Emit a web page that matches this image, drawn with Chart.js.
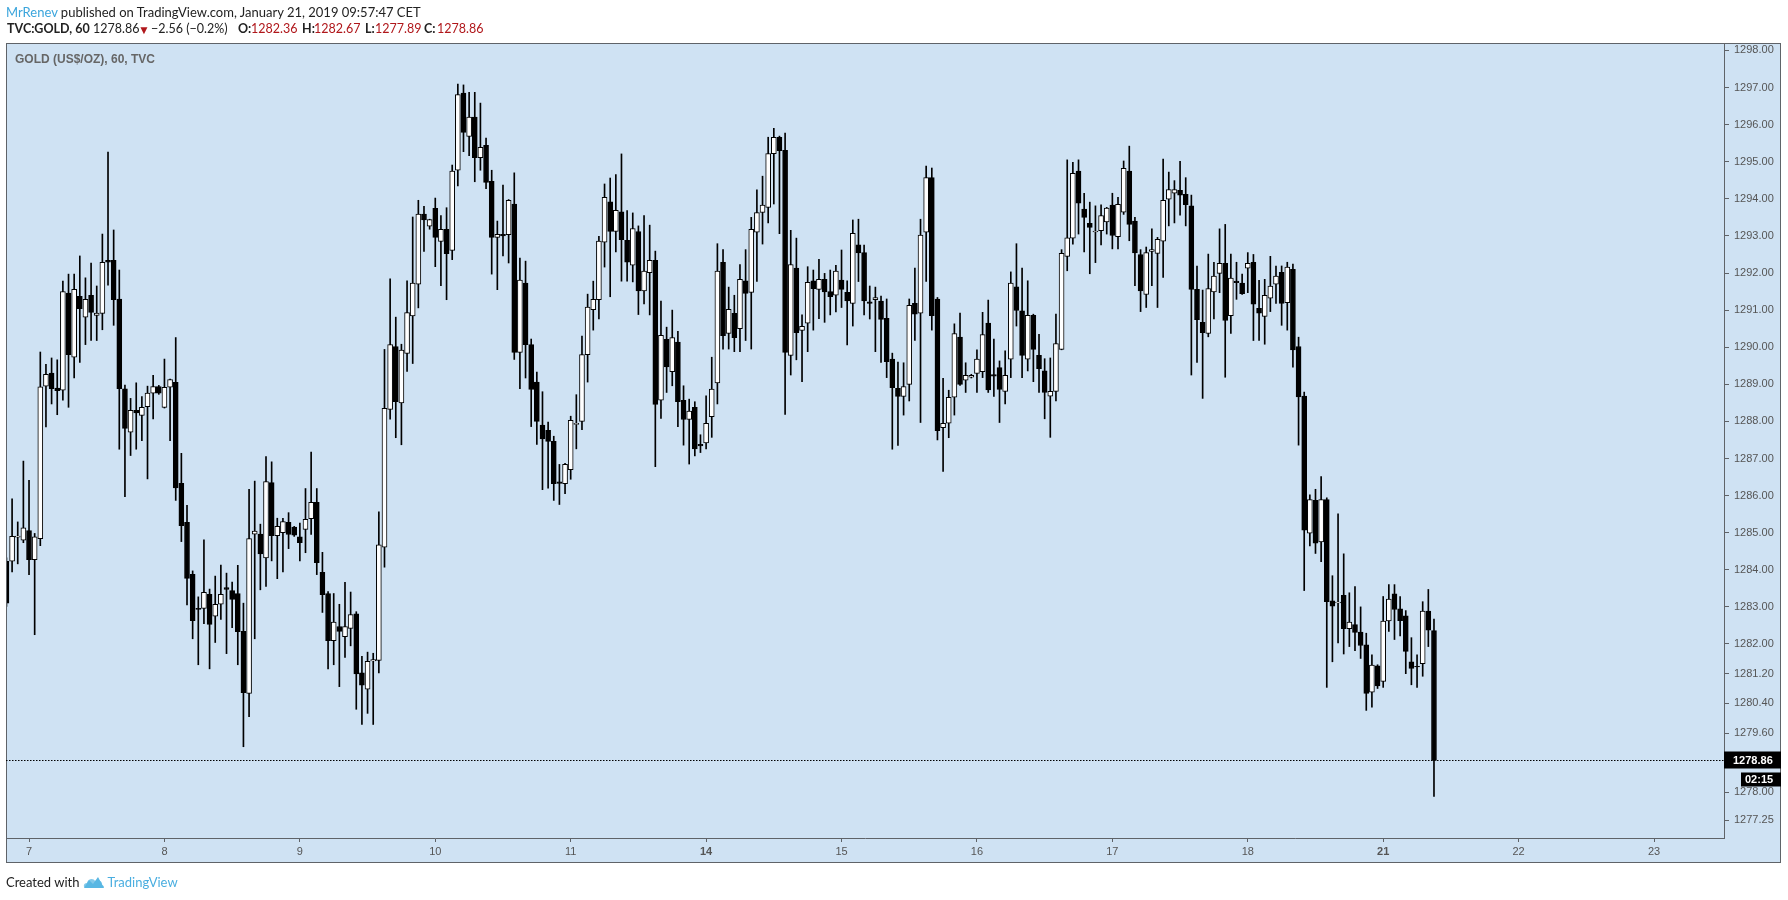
<!DOCTYPE html>
<html>
<head>
<meta charset="utf-8">
<script src="https://cdn.jsdelivr.net/npm/chart.js@4.4.1/dist/chart.umd.min.js"></script>
<style>
  html, body { margin: 0; padding: 0; background: #fff; }
  body { width: 1788px; height: 900px; position: relative; overflow: hidden; font-family: Lato, "Open Sans", sans-serif; }
  #chart { position: absolute; left: 0; top: 0; }
  .line { position: absolute; left: 6px; font-size: 13px; color: #222; white-space: nowrap; }
  .seg { position: absolute; top: 21px; font-size: 12.5px; color: #222; white-space: nowrap; }
  .blue { color: #3ba5dc; }
  .red { color: #b0171b; }
  .title { position: absolute; left: 15px; top: 52px; font: bold 12px "Liberation Sans", Arial, sans-serif; color: #666; white-space: nowrap; }
  .foot { position: absolute; left: 6px; top: 874px; font-size: 13px; color: #222; white-space: nowrap; display: flex; align-items: center; }
  .foot svg { margin: 0 2px 0 4px; }
</style>
</head>
<body>
<canvas id="chart" width="1788" height="900"></canvas>
<div class="line" style="top:4px"><span class="blue">MrRenev</span> published on TradingView.com, January 21, 2019 09:57:47 CET</div>
<div class="seg" style="left:7px"><b>TVC:GOLD, 60</b></div>
<div class="seg" style="left:93px">1278.86</div>
<div class="seg red" style="left:138px;font-size:12px;top:22px">&#9660;</div>
<div class="seg" style="left:151px">&minus;2.56 (&minus;0.2%)</div>
<div class="seg" style="left:238px"><b>O:</b></div>
<div class="seg red" style="left:251px">1282.36</div>
<div class="seg" style="left:302px"><b>H:</b></div>
<div class="seg red" style="left:314px">1282.67</div>
<div class="seg" style="left:365px"><b>L:</b></div>
<div class="seg red" style="left:375px">1277.89</div>
<div class="seg" style="left:424px"><b>C:</b></div>
<div class="seg red" style="left:437px">1278.86</div>
<div class="title">GOLD (US$/OZ), 60, TVC</div>
<div class="foot">Created with<svg width="22" height="14" viewBox="0 0 22 14"><path d="M1 13 L6 5 L10 9 L15 2 L21 13 Z" fill="#5ab7e3"/><path d="M3 13 C0 13 0 8 4 8 C5 3 11 3 12 6 C16 4 20 7 19 10 C22 11 21 13 19 13 Z" fill="#5ab7e3" opacity="0.75"/></svg><span style="color:#4aaee0">TradingView</span></div>

<script>
// candle index 0 = first hourly bar of Jan 7; 24 bars per day
const firstIndex = -4;

const opens = [
  1284.23, 1284.23, 1284.88, 1284.80,
  1285.06, 1284.27, 1284.84, 1288.95, 1289.30, 1288.90, 1288.84, 1291.46, 1289.73, 1291.37,
  1290.81, 1291.40, 1290.86, 1290.91, 1292.34, 1292.34, 1291.30, 1288.88, 1287.71, 1288.30,
  1288.16, 1288.40, 1288.76, 1288.94,
  1288.38, 1288.92, 1289.05, 1286.33, 1285.28, 1283.88, 1282.96, 1282.96, 1283.34, 1282.75,
  1283.07, 1283.52, 1283.44, 1283.36, 1282.34, 1280.67, 1284.96, 1284.96, 1284.32, 1286.35,
  1284.92, 1285.00, 1285.28, 1285.15,
  1284.89, 1285.09, 1285.38, 1285.82, 1283.93, 1283.36, 1282.09, 1282.47, 1282.20, 1282.42,
  1282.81, 1281.22, 1280.78, 1281.54, 1281.56, 1284.61, 1288.32, 1290.02, 1288.50, 1289.83,
  1290.84, 1291.70, 1293.59, 1293.26,
  1293.74, 1292.85, 1293.18, 1292.61, 1294.77, 1296.85, 1295.68, 1296.20, 1295.11, 1295.44,
  1294.47, 1292.96, 1293.04, 1293.03, 1293.86, 1289.86, 1291.73, 1290.07, 1289.06, 1287.90,
  1287.76, 1287.46, 1286.37, 1286.32,
  1286.70, 1287.92, 1288.00, 1289.80, 1291.01, 1291.28, 1292.83, 1293.92, 1293.12, 1293.65,
  1292.88, 1292.21, 1293.12, 1291.52, 1292.01, 1292.34, 1288.57, 1290.21, 1289.34, 1290.14,
  1288.57, 1288.05, 1288.38, 1287.38,
  1287.42, 1288.13, 1289.04, 1292.29, 1290.37, 1290.91, 1290.50, 1291.79, 1291.48, 1293.10,
  1293.63, 1293.77, 1295.22, 1295.66, 1295.31, 1289.78, 1292.13, 1290.45, 1290.65, 1291.79,
  1291.56, 1291.83, 1291.50, 1291.40,
  1291.81, 1291.48, 1291.18, 1292.76, 1292.55, 1291.22, 1291.28, 1291.24, 1290.78, 1289.68,
  1288.89, 1288.67, 1289.00, 1291.18, 1290.92, 1293.10, 1294.57, 1291.30, 1287.83, 1287.95,
  1288.65, 1290.27, 1289.11, 1289.19,
  1289.29, 1289.34, 1290.65, 1289.26, 1289.45, 1288.81, 1289.68, 1291.63, 1290.98, 1289.68,
  1290.86, 1289.78, 1289.36, 1288.68, 1288.81, 1289.94, 1292.45, 1292.94, 1294.75, 1293.72,
  1293.34, 1293.11, 1293.14, 1293.38,
  1293.83, 1292.98, 1293.64, 1294.75, 1293.40, 1292.50, 1291.42, 1292.58, 1292.53, 1292.86,
  1293.99, 1294.15, 1294.23, 1294.12, 1293.81, 1291.56, 1290.67, 1290.37, 1291.49, 1291.99,
  1292.26, 1290.85, 1291.78, 1291.73,
  1292.13, 1292.29, 1291.05, 1290.83, 1291.32, 1291.70, 1292.02, 1291.20, 1292.10, 1290.02,
  1288.68, 1284.99, 1285.87, 1284.75, 1285.89, 1283.16, 1283.11, 1283.31, 1282.41, 1282.52,
  1282.32, 1281.98, 1280.70, 1281.41,
  1280.99, 1282.62, 1283.35, 1282.95, 1282.76, 1281.52, 1281.40, 1281.47, 1282.89, 1282.36
];

const highs = [
  1284.32, 1285.91, 1285.29, 1286.93,
  1286.41, 1284.98, 1289.87, 1289.54, 1289.71, 1289.66, 1291.78, 1291.97, 1291.97, 1292.46,
  1291.87, 1292.27, 1291.65, 1293.05, 1295.26, 1293.16, 1292.08, 1288.98, 1288.62, 1289.04,
  1288.67, 1288.95, 1289.24, 1288.97,
  1289.68, 1289.14, 1290.26, 1287.14, 1285.74, 1283.97, 1283.27, 1284.81, 1283.48, 1283.83,
  1284.13, 1283.91, 1283.67, 1284.12, 1283.10, 1286.17, 1286.39, 1285.23, 1287.05, 1286.91,
  1285.39, 1285.39, 1285.54, 1285.17,
  1285.26, 1286.19, 1287.17, 1286.19, 1284.47, 1283.41, 1283.36, 1283.07, 1283.66, 1283.40,
  1282.87, 1281.67, 1281.78, 1281.75, 1285.56, 1289.94, 1291.84, 1290.81, 1290.08, 1291.79,
  1293.51, 1293.96, 1293.80, 1293.45,
  1294.02, 1293.55, 1293.76, 1294.91, 1297.09, 1297.07, 1296.87, 1296.87, 1296.58, 1295.64,
  1294.77, 1293.40, 1294.37, 1293.98, 1294.70, 1292.40, 1292.32, 1290.22, 1289.33, 1288.80,
  1287.98, 1287.60, 1286.84, 1286.87,
  1288.14, 1288.72, 1290.30, 1291.43, 1291.78, 1292.99, 1294.40, 1294.56, 1294.65, 1295.21,
  1293.68, 1293.62, 1293.27, 1293.55, 1293.29, 1292.59, 1291.24, 1290.54, 1291.00, 1290.43,
  1288.96, 1288.60, 1288.53, 1287.64,
  1288.69, 1289.73, 1292.79, 1292.63, 1291.62, 1291.40, 1292.23, 1292.63, 1293.50, 1294.24,
  1294.61, 1295.66, 1295.90, 1295.69, 1295.77, 1293.15, 1292.94, 1290.87, 1292.17, 1292.08,
  1292.37, 1291.99, 1292.08, 1292.21,
  1292.62, 1291.79, 1293.43, 1293.45, 1292.75, 1291.65, 1291.62, 1291.38, 1291.30, 1289.84,
  1289.60, 1289.58, 1291.30, 1292.13, 1293.45, 1294.88, 1294.83, 1291.34, 1289.16, 1288.84,
  1290.63, 1290.92, 1289.58, 1289.27,
  1289.93, 1290.94, 1291.27, 1290.22, 1289.63, 1289.90, 1292.03, 1292.79, 1292.13, 1291.79,
  1290.89, 1290.35, 1289.69, 1289.71, 1290.89, 1292.63, 1295.05, 1294.98, 1295.05, 1294.15,
  1293.91, 1293.81, 1293.84, 1293.77,
  1294.15, 1294.04, 1295.02, 1295.42, 1293.50, 1292.63, 1292.70, 1293.19, 1292.96, 1295.07,
  1294.72, 1294.49, 1295.01, 1294.57, 1294.10, 1292.19, 1291.54, 1292.51, 1292.29, 1293.19,
  1293.31, 1292.51, 1292.29, 1291.97,
  1292.55, 1292.50, 1291.80, 1291.83, 1292.45, 1292.19, 1292.19, 1292.29, 1292.24, 1290.27,
  1288.79, 1286.02, 1286.17, 1286.51, 1285.94, 1283.84, 1285.51, 1284.43, 1283.38, 1283.55,
  1283.00, 1282.29, 1281.71, 1281.44,
  1283.28, 1283.60, 1283.60, 1283.28, 1282.90, 1282.17, 1281.71, 1283.14, 1283.47, 1282.67
];

const lows = [
  1283.01, 1283.94, 1284.16, 1284.73,
  1283.87, 1282.25, 1284.65, 1287.85, 1288.47, 1288.18, 1288.57, 1288.38, 1289.17, 1289.59,
  1290.07, 1290.18, 1290.18, 1290.47, 1291.67, 1290.59, 1287.25, 1285.97, 1287.08, 1287.25,
  1287.48, 1286.45, 1288.07, 1288.73,
  1288.36, 1287.48, 1285.87, 1284.76, 1283.05, 1282.14, 1281.44, 1282.55, 1281.33, 1282.04,
  1282.66, 1281.74, 1282.44, 1281.44, 1279.23, 1280.04, 1282.14, 1283.46, 1283.55, 1284.24,
  1283.76, 1283.94, 1284.57, 1284.90,
  1284.24, 1284.46, 1284.95, 1283.87, 1282.85, 1281.33, 1281.44, 1280.85, 1281.64, 1281.95,
  1280.24, 1279.83, 1280.13, 1279.83, 1281.22, 1284.07, 1288.06, 1287.56, 1287.37, 1289.35,
  1289.56, 1291.06, 1292.58, 1293.18,
  1292.17, 1291.66, 1291.28, 1292.36, 1294.35, 1295.27, 1295.16, 1294.46, 1294.77, 1294.27,
  1291.97, 1291.55, 1292.46, 1292.27, 1289.67, 1288.88, 1289.17, 1287.86, 1287.38, 1286.16,
  1286.20, 1285.87, 1285.76, 1286.05,
  1286.44, 1287.26, 1287.78, 1289.06, 1290.46, 1290.76, 1292.16, 1291.36, 1292.57, 1291.78,
  1291.78, 1291.76, 1290.88, 1291.17, 1290.87, 1286.78, 1288.08, 1288.78, 1288.96, 1287.86,
  1287.36, 1286.85, 1287.07, 1287.16,
  1287.26, 1287.57, 1288.47, 1289.95, 1289.95, 1289.88, 1289.88, 1290.18, 1289.95, 1291.77,
  1292.78, 1293.35, 1293.86, 1293.06, 1288.19, 1289.25, 1289.66, 1289.07, 1289.88, 1290.46,
  1290.77, 1290.67, 1290.87, 1290.95,
  1291.07, 1290.06, 1290.57, 1291.77, 1290.87, 1290.76, 1289.88, 1289.59, 1289.18, 1287.25,
  1287.35, 1288.17, 1288.55, 1290.18, 1287.97, 1291.77, 1290.46, 1287.50, 1286.65, 1287.56,
  1288.17, 1288.97, 1288.78, 1289.17,
  1288.78, 1289.18, 1288.78, 1288.67, 1287.97, 1288.47, 1289.18, 1290.57, 1289.18, 1289.36,
  1289.07, 1288.78, 1288.07, 1287.57, 1288.55, 1289.93, 1292.06, 1292.78, 1293.05, 1292.57,
  1291.98, 1292.28, 1292.76, 1293.05,
  1292.65, 1292.65, 1293.58, 1292.87, 1291.66, 1290.96, 1291.07, 1291.66, 1291.07, 1291.88,
  1293.27, 1293.35, 1293.56, 1293.27, 1289.25, 1289.59, 1288.62, 1290.28, 1290.76, 1291.47,
  1289.19, 1290.37, 1291.29, 1291.42,
  1291.47, 1290.18, 1290.18, 1290.08, 1290.96, 1291.18, 1290.59, 1290.46, 1289.46, 1287.36,
  1283.44, 1284.64, 1284.44, 1284.22, 1280.83, 1281.52, 1282.03, 1281.73, 1281.93, 1281.82,
  1281.61, 1280.21, 1280.30, 1280.80,
  1280.83, 1282.34, 1282.12, 1282.22, 1281.20, 1280.90, 1280.83, 1281.13, 1281.93, 1277.89
];

const closes = [
  1283.10, 1284.90, 1284.91, 1285.13,
  1284.27, 1284.89, 1288.93, 1289.27, 1288.88, 1288.83, 1291.50, 1289.80, 1291.56, 1291.04,
  1291.29, 1290.94, 1290.92, 1292.29, 1292.29, 1291.28, 1288.88, 1287.81, 1288.30, 1288.23,
  1288.38, 1288.76, 1288.94, 1288.76,
  1288.92, 1289.13, 1286.21, 1285.19, 1283.77, 1282.63, 1282.93, 1283.39, 1282.53, 1283.07,
  1283.34, 1283.47, 1283.20, 1282.33, 1280.69, 1284.84, 1285.04, 1284.43, 1286.38, 1284.92,
  1285.17, 1285.30, 1284.95, 1284.93,
  1284.73, 1285.36, 1285.82, 1284.19, 1283.33, 1282.09, 1282.59, 1282.34, 1282.47, 1282.79,
  1281.19, 1280.89, 1281.53, 1281.58, 1284.67, 1288.35, 1290.07, 1288.53, 1289.92, 1290.93,
  1291.73, 1293.59, 1293.43, 1293.44,
  1292.96, 1293.18, 1292.52, 1294.75, 1296.81, 1295.79, 1296.20, 1295.11, 1295.39, 1294.44,
  1292.96, 1293.04, 1293.00, 1293.96, 1289.86, 1291.81, 1290.07, 1288.86, 1288.00, 1287.53,
  1287.46, 1286.32, 1286.33, 1286.84,
  1288.03, 1287.95, 1289.80, 1291.08, 1291.29, 1292.86, 1294.04, 1293.12, 1293.69, 1292.90,
  1292.29, 1293.20, 1291.52, 1292.05, 1292.34, 1288.46, 1290.32, 1289.47, 1290.26, 1288.53,
  1288.05, 1288.28, 1287.26, 1287.34,
  1287.95, 1288.87, 1292.05, 1290.31, 1291.02, 1290.26, 1291.83, 1291.45, 1293.18, 1293.63,
  1293.83, 1295.22, 1295.66, 1295.30, 1289.86, 1292.23, 1290.39, 1290.56, 1291.75, 1291.58,
  1291.83, 1291.49, 1291.36, 1292.05,
  1291.56, 1291.25, 1293.07, 1292.54, 1291.25, 1291.18, 1291.34, 1290.75, 1289.61, 1288.91,
  1288.67, 1288.94, 1291.13, 1290.89, 1293.02, 1294.57, 1290.85, 1287.75, 1287.95, 1288.65,
  1290.37, 1289.00, 1289.24, 1289.24,
  1289.68, 1290.34, 1288.85, 1289.22, 1288.86, 1289.24, 1291.73, 1290.99, 1289.78, 1290.86,
  1289.94, 1289.42, 1288.78, 1288.81, 1290.10, 1292.53, 1292.95, 1294.69, 1293.88, 1293.50,
  1293.23, 1293.13, 1293.55, 1293.75,
  1293.01, 1293.85, 1294.82, 1293.31, 1292.54, 1291.52, 1292.55, 1292.63, 1292.91, 1293.96,
  1294.25, 1294.25, 1294.10, 1293.84, 1291.56, 1290.74, 1290.39, 1291.58, 1291.92, 1292.26,
  1290.72, 1291.86, 1291.74, 1291.44,
  1292.26, 1291.16, 1290.92, 1291.40, 1291.65, 1291.92, 1291.18, 1292.16, 1289.93, 1288.66,
  1285.07, 1285.89, 1284.72, 1285.89, 1283.14, 1283.02, 1283.13, 1282.41, 1282.59, 1282.31,
  1281.96, 1280.67, 1281.43, 1280.87,
  1282.62, 1283.21, 1282.93, 1282.63, 1281.80, 1281.34, 1281.38, 1282.89, 1282.37, 1278.86
];

const dayTicks = [0, 24, 48, 72, 96, 120, 144, 168, 192, 216, 240, 264, 288];
const dayLabels = ['7', '8', '9', '10', '11', '14', '15', '16', '17', '18', '21', '22', '23'];
const weekStarts = ['14', '21'];

const priceTicks = [1298, 1297, 1296, 1295, 1294, 1293, 1292, 1291, 1290, 1289, 1288, 1287,
  1286, 1285, 1284, 1283, 1282, 1281.2, 1280.4, 1279.6, 1278, 1277.25];

const lastPrice = closes[closes.length - 1];
const countdown = '02:15';

const wickData = highs.map((h, i) => ({ x: firstIndex + i, y: [lows[i], h] }));
const bodyData = opens.map((o, i) => ({ x: firstIndex + i, y: [o, closes[i]] }));
const bodyFill = opens.map((o, i) => closes[i] >= o ? '#ffffff' : '#000000');

const axisFont = '"Liberation Sans", Arial, sans-serif';

// blue panel, frame and last-price marker
const framePlugin = {
  id: 'frame',
  beforeDraw(chart) {
    const ctx = chart.ctx;
    ctx.save();
    ctx.fillStyle = '#cfe2f3';
    ctx.fillRect(6, 43, 1775, 820);
    ctx.restore();
  },
  afterDraw(chart) {
    const { ctx, chartArea: a, scales } = chart;
    ctx.save();
    ctx.strokeStyle = '#5f6368';
    ctx.lineWidth = 1;
    ctx.strokeRect(6.5, 43.5, 1774, 819);

    const y = Math.round(scales.y.getPixelForValue(lastPrice)) + 0.5;
    ctx.strokeStyle = '#000';
    ctx.setLineDash([1.5, 1.5]);
    ctx.beginPath();
    ctx.moveTo(a.left, y);
    ctx.lineTo(a.right, y);
    ctx.stroke();
    ctx.setLineDash([]);

    ctx.fillStyle = '#000';
    ctx.fillRect(a.right, y - 9, 57, 17);
    ctx.fillRect(a.right + 17, y + 12, 40, 14);
    ctx.fillStyle = '#fff';
    ctx.font = 'bold 11px ' + axisFont;
    ctx.textBaseline = 'middle';
    ctx.textAlign = 'left';
    ctx.fillText(lastPrice.toFixed(2), a.right + 9, y);
    ctx.fillText(countdown, a.right + 21, y + 19);
    ctx.restore();
  }
};

new Chart(document.getElementById('chart'), {
  type: 'bar',
  data: {
    datasets: [
      {
        data: bodyData,
        backgroundColor: bodyFill,
        borderColor: '#000',
        borderWidth: 1,
        borderSkipped: false,
        barThickness: 5,
        grouped: false,
        order: 0
      },
      {
        data: wickData,
        backgroundColor: '#000',
        borderWidth: 0,
        barThickness: 1,
        grouped: false,
        order: 1
      }
    ]
  },
  options: {
    responsive: false,
    animation: false,
    layout: { padding: { left: 6, top: 43, right: 7, bottom: 37 } },
    plugins: { legend: { display: false }, tooltip: { enabled: false } },
    scales: {
      x: {
        type: 'linear',
        min: -4.08,
        max: 300.4,
        offset: false,
        afterBuildTicks: s => { s.ticks = dayTicks.map(v => ({ value: v })); },
        afterFit: s => { s.height = 25; },
        grid: { drawOnChartArea: false, drawTicks: true, tickLength: 4, color: '#5f6368', offset: false },
        border: { display: true, color: '#5f6368' },
        ticks: {
          autoSkip: false,
          maxRotation: 0,
          padding: 3,
          color: '#555',
          font: ctx => {
            const lbl = dayLabels[dayTicks.indexOf(ctx.tick ? ctx.tick.value : -1)];
            return { family: axisFont, size: 11, weight: weekStarts.includes(lbl) ? 'bold' : 'normal' };
          },
          callback: v => dayLabels[dayTicks.indexOf(v)]
        }
      },
      y: {
        position: 'right',
        min: 1276.77,
        max: 1298.20,
        afterBuildTicks: s => { s.ticks = priceTicks.map(v => ({ value: v })); },
        afterFit: s => { s.width = 57; },
        grid: { drawOnChartArea: false, drawTicks: true, tickLength: 5, color: '#5f6368' },
        border: { display: true, color: '#5f6368' },
        ticks: {
          padding: 5,
          color: '#555',
          font: { family: axisFont, size: 11 },
          callback: v => Number(v).toFixed(2)
        }
      }
    }
  },
  plugins: [framePlugin]
});
</script>
</body>
</html>
